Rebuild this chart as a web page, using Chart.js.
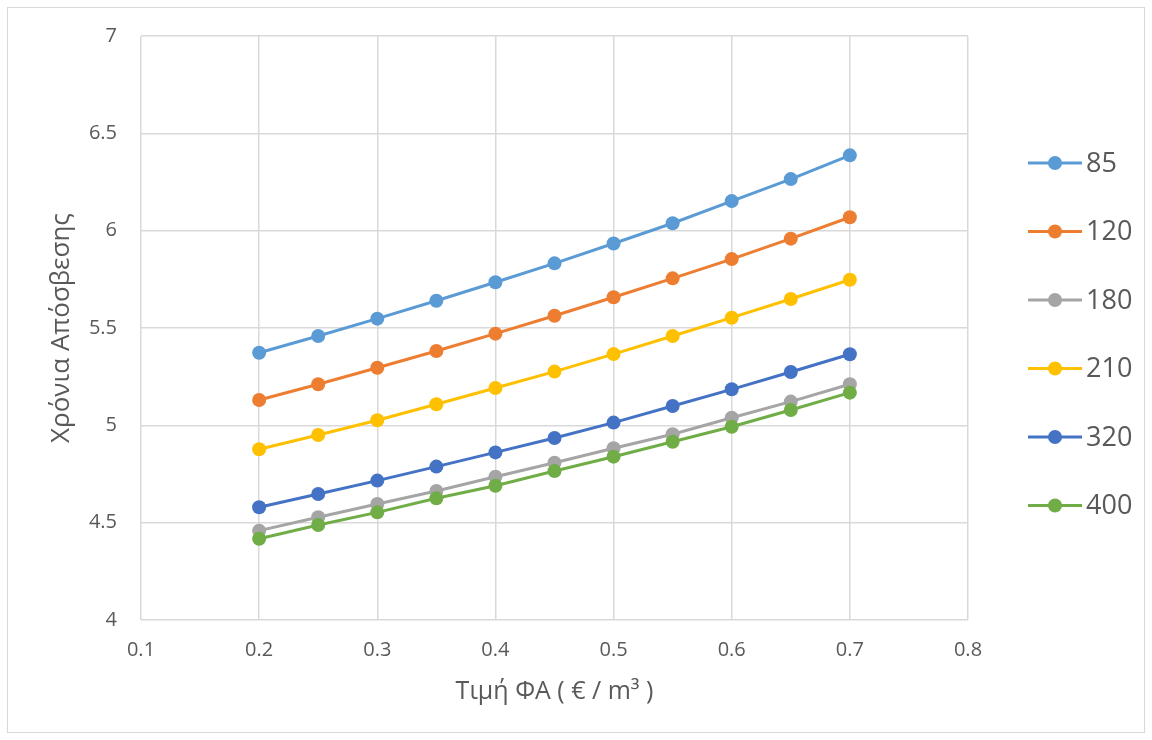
<!DOCTYPE html>
<html>
<head>
<meta charset="utf-8">
<script src="https://cdn.jsdelivr.net/npm/chart.js@4.4.1/dist/chart.umd.min.js"></script>
<style>
  html, body { margin: 0; padding: 0; background: #ffffff; }
  #wrap { position: relative; width: 1152px; height: 740px; }
</style>
</head>
<body>
<div id="wrap"><canvas id="chart" width="1152" height="740"></canvas></div>
<script>
// Price of electricity (€/m³) on the x axis
const prices = [0.2, 0.25, 0.3, 0.35, 0.4, 0.45, 0.5, 0.55, 0.6, 0.65, 0.7];

// Series names (legend labels)
const seriesNames = ['85', '120', '180', '210', '320', '400'];

// Payback years for each series
const years85  = [5.373, 5.459, 5.548, 5.640, 5.735, 5.832, 5.934, 6.038, 6.152, 6.265, 6.387];
const years120 = [5.130, 5.211, 5.296, 5.382, 5.471, 5.563, 5.658, 5.755, 5.854, 5.959, 6.069];
const years180 = [4.459, 4.528, 4.596, 4.663, 4.736, 4.808, 4.882, 4.954, 5.039, 5.122, 5.211];
const years210 = [4.877, 4.950, 5.026, 5.108, 5.192, 5.276, 5.366, 5.459, 5.553, 5.649, 5.748];
const years320 = [4.579, 4.647, 4.716, 4.788, 4.861, 4.935, 5.014, 5.099, 5.185, 5.274, 5.365];
const years400 = [4.417, 4.488, 4.553, 4.625, 4.690, 4.765, 4.839, 4.916, 4.993, 5.079, 5.168];

// Axis tick values
const xTicks = [0.1, 0.2, 0.3, 0.4, 0.5, 0.6, 0.7, 0.8];
const yTicks = [4, 4.5, 5, 5.5, 6, 6.5, 7];

const xTitle = 'Τιμή ΦΑ ( € / m³ )';
const yTitle = 'Χρόνια Απόσβεσης';

const seriesValues = [years85, years120, years180, years210, years320, years400];
const seriesColors = ['#5B9BD5', '#ED7D31', '#A5A5A5', '#FFC000', '#4472C4', '#70AD47'];

const FONT = "'Open Sans', 'Noto Sans', sans-serif";
const TEXT = '#595959';
const GRID = '#d9d9d9';

const datasets = seriesValues.map((vals, i) => ({
  label: seriesNames[i],
  data: prices.map((p, j) => ({ x: p, y: vals[j] })),
  borderColor: seriesColors[i],
  backgroundColor: seriesColors[i],
  borderWidth: 3,
  pointRadius: 7,
  pointHoverRadius: 7,
  pointBorderWidth: 0,
  pointBackgroundColor: seriesColors[i],
  tension: 0,
  // later series sit on top
  order: seriesValues.length - i
}));

// Outer frame of the chart
const framePlugin = {
  id: 'frame',
  beforeDraw(chart) {
    const ctx = chart.ctx;
    ctx.save();
    ctx.fillStyle = '#ffffff';
    ctx.fillRect(0, 0, chart.width, chart.height);
    ctx.strokeStyle = GRID;
    ctx.lineWidth = 1;
    ctx.strokeRect(7.5, 7.5, 1137, 725);
    ctx.restore();
  }
};

// Legend on the right: short line with a marker, then the label
const sideLegend = {
  id: 'sideLegend',
  afterDraw(chart) {
    const ctx = chart.ctx;
    const top = 163, step = 68.5;
    const x0 = 1028, x1 = 1082, xm = 1055, xt = 1086;
    ctx.save();
    chart.data.datasets.forEach((ds, i) => {
      const y = top + i * step;
      ctx.strokeStyle = ds.borderColor;
      ctx.lineWidth = 3;
      ctx.beginPath();
      ctx.moveTo(x0, y);
      ctx.lineTo(x1, y);
      ctx.stroke();
      ctx.fillStyle = ds.borderColor;
      ctx.beginPath();
      ctx.arc(xm, y, 7, 0, Math.PI * 2);
      ctx.fill();
      ctx.fillStyle = TEXT;
      ctx.font = '27px ' + FONT;
      ctx.textAlign = 'left';
      ctx.textBaseline = 'middle';
      ctx.fillText(ds.label, xt, y + 1);
    });
    ctx.restore();
  }
};

const fmt = v => String(parseFloat(Number(v).toFixed(2)));

new Chart(document.getElementById('chart'), {
  type: 'line',
  data: { datasets },
  options: {
    responsive: false,
    animation: false,
    events: [],
    layout: { padding: { top: 36, right: 184, bottom: 0, left: 0 } },
    plugins: {
      legend: { display: false },
      tooltip: { enabled: false }
    },
    scales: {
      x: {
        type: 'linear',
        min: xTicks[0],
        max: xTicks[xTicks.length - 1],
        afterBuildTicks: s => { s.ticks = xTicks.map(v => ({ value: v })); },
        afterFit: s => { s.height = 120; },
        grid: { color: GRID, lineWidth: 1.5, drawTicks: false },
        border: { display: false },
        ticks: { color: TEXT, font: { family: FONT, size: 20 }, padding: 18, callback: fmt, maxRotation: 0 },
        title: {
          display: true, text: xTitle, color: TEXT,
          font: { family: FONT, size: 25 },
          padding: { top: 0, bottom: 33 }
        }
      },
      y: {
        type: 'linear',
        min: yTicks[0],
        max: yTicks[yTicks.length - 1],
        afterBuildTicks: s => { s.ticks = yTicks.map(v => ({ value: v })); },
        afterFit: s => { s.width = 141; },
        grid: { color: GRID, lineWidth: 1.5, drawTicks: false },
        border: { display: false },
        ticks: { color: TEXT, font: { family: FONT, size: 20 }, padding: 24, callback: fmt },
        title: {
          display: true, text: yTitle, color: TEXT,
          font: { family: FONT, size: 26 },
          padding: { top: 46, bottom: 0 }
        }
      }
    }
  },
  plugins: [framePlugin, sideLegend]
});
</script>
</body>
</html>
